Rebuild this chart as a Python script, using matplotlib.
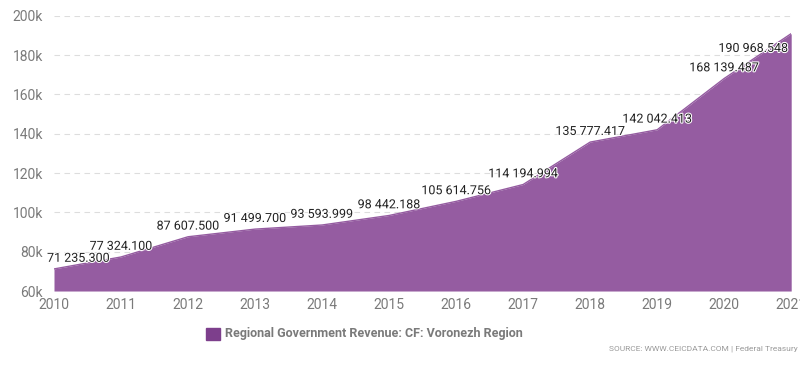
import numpy as np
import matplotlib
matplotlib.use("Agg")
from matplotlib import pyplot as plt
from matplotlib.ticker import FuncFormatter
import matplotlib.patheffects as pe

years = [2010, 2011, 2012, 2013, 2014, 2015, 2016, 2017, 2018, 2019, 2020, 2021]
revenue = [71235.300, 77324.100, 87607.500, 91499.700, 93593.999, 98442.188,
           105614.756, 114194.994, 135777.417, 142042.413, 168139.487, 190968.548]
yticks = [60000, 80000, 100000, 120000, 140000, 160000, 180000, 200000]
series_name = "Regional Government Revenue: CF: Voronezh Region"
source_text = "SOURCE: WWW.CEICDATA.COM | Federal Treasury"

plt.rcParams['font.family'] = ['Roboto', 'DejaVu Sans']

fill_color = "#955ca1"
legend_color = "#7d3f8c"
tick_color = "#7a7a7a"

def fmt_value(v):
    whole = int(v)
    frac = int(round((v - whole) * 1000))
    return "{:,}".format(whole).replace(",", " ") + ".{:03d}".format(frac)

fig = plt.figure(figsize=(8, 3.87), dpi=100)
ax = fig.add_axes([0.0675, 0.248, 0.9215, 0.711])

ax.fill_between(years, revenue, 60000, color=fill_color, linewidth=0, zorder=2)
ax.plot(years, revenue, color=fill_color, linewidth=1, zorder=2)

ax.set_xlim(2010, 2021)
ax.set_ylim(60000, 200000)
ax.set_yticks(yticks)
ax.yaxis.set_major_formatter(FuncFormatter(lambda v, p: "%dk" % (v / 1000)))
ax.set_xticks(years)
ax.grid(axis="y", color="#dddddd", linestyle=(0, (5, 4)), linewidth=0.8, zorder=1)
for s in ax.spines.values():
    s.set_visible(False)
ax.tick_params(axis="both", length=0, labelsize=10, labelcolor=tick_color)
ax.tick_params(axis="y", pad=8)
ax.tick_params(axis="x", pad=5)

halo = [pe.withStroke(linewidth=1.5, foreground="white")]
for i, (x, v) in enumerate(zip(years, revenue)):
    dx, dy, ha, va = 0, 3, "center", "bottom"
    if i == 0:
        dx, ha = -5, "left"
    if i == len(years) - 1:
        dx, dy, ha, va = -2, -6, "right", "top"
    ax.annotate(fmt_value(v), (x, v), xytext=(dx, dy), textcoords="offset points",
                ha=ha, va=va, fontsize=9, color="#222222", path_effects=halo, zorder=4)

fig.patches.append(matplotlib.patches.Rectangle((0.258, 0.122), 0.017, 0.03,
                                                 transform=fig.transFigure,
                                                 color=legend_color))
fig.text(0.281, 0.137, series_name, fontsize=9, fontweight="bold",
         color=tick_color, va="center", ha="left")
fig.text(0.997, 0.10, source_text, fontsize=6, color="#9a9a9a", ha="right", va="center")

fig.savefig("out.png", dpi=100)
